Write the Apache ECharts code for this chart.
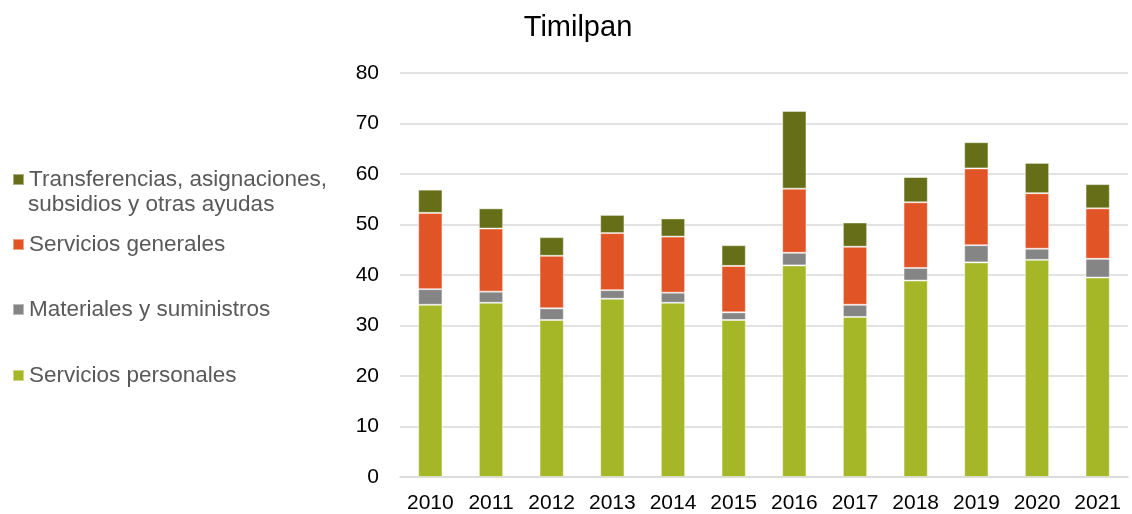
<!DOCTYPE html>
<html>
<head>
<meta charset="utf-8">
<script src="https://cdn.jsdelivr.net/npm/echarts@6/dist/echarts.min.js"></script>
<style>
  html, body { margin: 0; padding: 0; background: #fff; }
  #pic { width: 1132px; height: 514px; }
</style>
</head>
<body>
<div id="pic"></div>
<script>
var years = ['2010', '2011', '2012', '2013', '2014', '2015', '2016', '2017', '2018', '2019', '2020', '2021'];
var personales = [34.1, 34.5, 31.1, 35.3, 34.5, 31.1, 41.9, 31.7, 38.9, 42.5, 43.0, 39.5];
var materiales = [3.1, 2.2, 2.3, 1.7, 2.0, 1.5, 2.5, 2.4, 2.5, 3.4, 2.2, 3.7];
var generales = [15.1, 12.5, 10.4, 11.3, 11.1, 9.2, 12.7, 11.5, 13.0, 15.2, 11.0, 10.0];
var transferencias = [4.6, 4.0, 3.7, 3.6, 3.6, 4.1, 15.4, 4.8, 5.0, 5.2, 6.0, 4.8];
var yTicks = [0, 10, 20, 30, 40, 50, 60, 70, 80];

var names = ['Servicios personales', 'Materiales y suministros', 'Servicios generales',
  'Transferencias, asignaciones, subsidios y otras ayudas'];
var colors = ['#A5B627', '#858585', '#E15426', '#666F17'];
var font = 'Liberation Sans, Arial, sans-serif';

var chart = echarts.init(document.getElementById('pic'));

// one legend block per item, the gaps between them are uneven
function oneLegend(name, top) {
  return {
    data: [name],
    left: 12,
    top: top,
    padding: 0,
    icon: 'rect',
    itemWidth: 11,
    itemHeight: 11,
    itemGap: 0,
    selectedMode: false,
    textStyle: { color: '#595959', fontSize: 22.5, fontFamily: font },
    formatter: function (n) {
      if (n === names[3]) return 'Transferencias, asignaciones,';
      return n;
    }
  };
}

function barSeries(idx, data) {
  return {
    name: names[idx],
    type: 'bar',
    stack: 'total',
    barWidth: '40%',
    data: data,
    animation: false,
    itemStyle: { color: colors[idx], borderColor: 'rgba(255,255,255,0.45)', borderWidth: 1 }
  };
}

var option = {
  backgroundColor: '#fff',
  title: {
    text: 'Timilpan',
    left: 573,
    textAlign: 'center',
    top: 8,
    textStyle: { color: '#000', fontSize: 29, fontWeight: 'normal', fontFamily: font }
  },
  legend: [
    oneLegend(names[3], 168),
    oneLegend(names[2], 233),
    oneLegend(names[1], 298),
    oneLegend(names[0], 364)
  ],
  graphic: [{
    type: 'text',
    left: 28,
    top: 193,
    style: { text: 'subsidios y otras ayudas', fill: '#595959', font: '22.5px ' + font }
  }],
  grid: { left: 400, right: 4, top: 73, bottom: 36 },
  xAxis: {
    type: 'category',
    data: years,
    axisTick: { show: false },
    axisLine: { show: true, lineStyle: { color: '#d9d9d9', width: 1.5 } },
    axisLabel: { color: '#000', fontSize: 21, fontFamily: font, margin: 16, interval: 0 }
  },
  yAxis: {
    type: 'value',
    min: yTicks[0],
    max: yTicks[yTicks.length - 1],
    interval: 10,
    axisLine: { show: false },
    axisTick: { show: false },
    splitLine: { lineStyle: { color: '#d9d9d9', width: 1.5 } },
    axisLabel: { color: '#000', fontSize: 21, fontFamily: font, margin: 21 }
  },
  series: [
    barSeries(0, personales),
    barSeries(1, materiales),
    barSeries(2, generales),
    barSeries(3, transferencias)
  ]
};
chart.setOption(option);
</script>
</body>
</html>
